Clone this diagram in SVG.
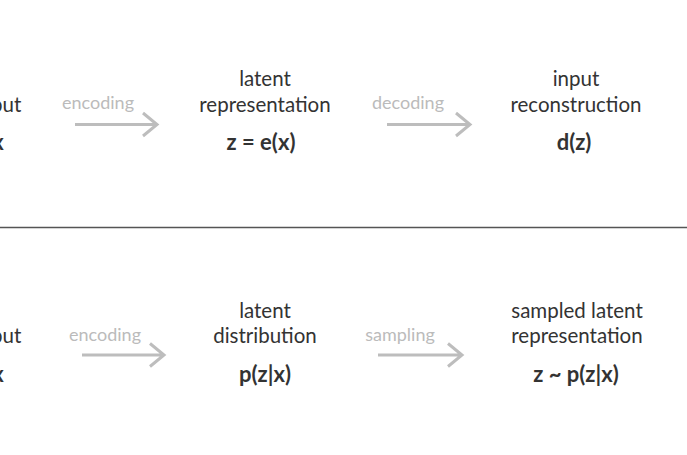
<svg xmlns="http://www.w3.org/2000/svg" width="687" height="455" viewBox="0 0 687 455">
<style>
.t{font-family:Lato,"Open Sans","Liberation Sans",sans-serif;font-size:20.5px;fill:#333;text-anchor:middle}
.b{font-weight:bold;font-size:22px}
.l{font-family:Lato,"Open Sans","Liberation Sans",sans-serif;font-size:18px;fill:#bbb;text-anchor:middle}
.a{stroke:#bdbdbd;stroke-width:3;fill:none;stroke-linecap:butt;stroke-linejoin:miter}
</style>
<rect width="687" height="455" fill="#fff"/>
<g id="top-input">
<text class="t" x="-2" y="112">input</text>
<text class="t b" x="-2" y="150">x</text>
</g>
<g id="top-latent">
<text class="t" x="265" y="86">latent</text>
<text class="t" x="265" y="112">representation</text>
<text class="t b" x="261" y="150">z = e(x)</text>
</g>
<g id="top-reconstruction">
<text class="t" x="576" y="86">input</text>
<text class="t" x="576" y="112">reconstruction</text>
<text class="t b" x="574" y="150">d(z)</text>
</g>
<g id="bottom-input">
<text class="t" x="-2" y="343">input</text>
<text class="t b" x="-2" y="382">x</text>
</g>
<g id="bottom-distribution">
<text class="t" x="265" y="318">latent</text>
<text class="t" x="265" y="343">distribution</text>
<text class="t b" x="265" y="382">p(z|x)</text>
</g>
<g id="bottom-sampled">
<text class="t" x="577" y="318">sampled latent</text>
<text class="t" x="577" y="343">representation</text>
<text class="t b" x="576" y="382">z ~ p(z|x)</text>
</g>
<g id="connectors">
<text class="l" x="98" y="109">encoding</text>
<path class="a" d="M75 124.5H157M143 113L157 124.5L143 136"/>
<text class="l" x="408" y="109">decoding</text>
<path class="a" d="M387 124.5H470M456 113L470 124.5L456 136"/>
<text class="l" x="105" y="341">encoding</text>
<path class="a" d="M82 355H164M150 343.5L164 355L150 366.5"/>
<text class="l" x="400" y="341">sampling</text>
<path class="a" d="M378 355H462M448 343.5L462 355L448 366.5"/>
</g>
<line id="divider" x1="0" y1="227.5" x2="687" y2="227.5" stroke="#555" stroke-width="1.5"/>
</svg>
